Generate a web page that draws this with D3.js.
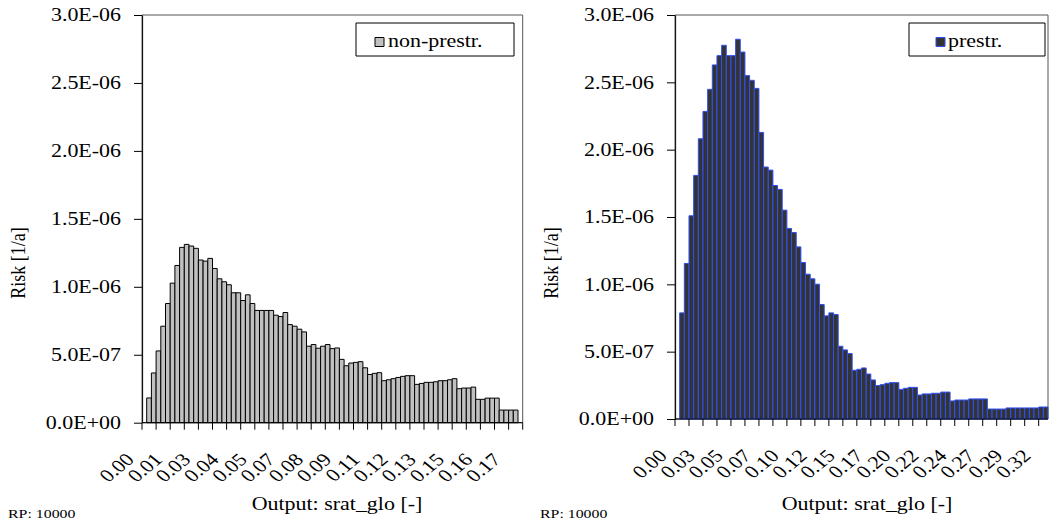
<!DOCTYPE html>
<html>
<head>
<meta charset="utf-8">
<script src="https://cdn.jsdelivr.net/npm/d3@7"></script>
<style>
  body { margin: 0; background: #fff; }
  text { font-family: "Liberation Serif", "Times New Roman", serif; fill: #000; }
</style>
</head>
<body>
<svg id="chart" width="1050" height="524"></svg>
<script>
// ---------------- DATA (risk values in units of 1E-07 per year) ----------------
// non-prestressed: 81 bins over Output srat_glo 0.00 .. 0.18
const nonPrestrRisk = [
  0, 1.82, 3.66, 5.28, 7.10, 8.77, 10.27, 11.57, 12.90, 13.12,
  13.00, 12.83, 11.97, 11.89, 12.09, 11.35, 10.59, 10.37, 10.15, 9.56,
  9.56, 8.99, 9.41, 8.77, 8.26, 8.26, 8.26, 8.26, 7.91, 7.81,
  8.11, 7.22, 7.10, 6.88, 6.68, 5.63, 5.75, 5.48, 5.63, 5.75,
  5.45, 5.50, 4.66, 4.19, 4.39, 4.44, 4.49, 4.04, 3.55, 3.63,
  3.68, 3.09, 3.16, 3.24, 3.33, 3.41, 3.46, 3.46, 2.82, 2.89,
  2.97, 2.97, 3.01, 3.09, 3.09, 3.16, 3.24, 2.50, 2.55, 2.55,
  2.62, 1.72, 1.72, 1.81, 1.81, 1.81, 0.93, 0.93, 0.93, 0.93,
  0
];
// prestressed: 80 bins over Output srat_glo 0.00 .. 0.33
const prestrRisk = [
  0, 7.88, 11.55, 15.09, 18.09, 20.81, 22.84, 24.48, 26.29, 26.98,
  27.75, 26.98, 26.98, 28.20, 27.25, 25.50, 25.15, 24.55, 21.28, 18.71,
  18.48, 17.34, 17.05, 15.51, 14.15, 13.85, 12.78, 11.62, 10.75, 10.41,
  10.01, 8.50, 7.66, 7.88, 7.76, 5.40, 5.13, 4.86, 3.62, 3.69,
  3.79, 3.34, 2.90, 2.48, 2.55, 2.65, 2.70, 2.70, 2.20, 2.28,
  2.35, 2.35, 1.78, 1.86, 1.86, 1.91, 1.91, 2.00, 2.00, 1.34,
  1.41, 1.41, 1.41, 1.49, 1.49, 1.49, 1.49, 0.74, 0.74, 0.74,
  0.74, 0.82, 0.82, 0.82, 0.82, 0.82, 0.82, 0.82, 0.89, 0.89
];
// x tick labels (one every 6 bins)
const nonPrestrTickLabels = ["0.00","0.01","0.03","0.04","0.05","0.07","0.08","0.09","0.11","0.12","0.13","0.15","0.16","0.17"];
const prestrTickLabels    = ["0.00","0.03","0.05","0.07","0.10","0.12","0.15","0.17","0.20","0.22","0.24","0.27","0.29","0.32"];
// y ticks (units of 1E-07) and their labels
const yTickValues = [0, 5, 10, 15, 20, 25, 30];
const yTickLabels = ["0.0E+00","5.0E-07","1.0E-06","1.5E-06","2.0E-06","2.5E-06","3.0E-06"];
const seriesNames = ["non-prestr.", "prestr."];
const xTitle = "Output: srat_glo [-]";
const yTitle = "Risk [1/a]";
const footNote = "RP: 10000";

// ---------------- DRAWING ----------------
const SX = 1.22;            // the original graphic is stretched horizontally
const FS = 18;              // font size
const svg = d3.select("#chart");
const root = svg.append("g").attr("transform", `scale(${SX},1)`);

function panel(cfg) {
  const g = root.append("g");
  const n = cfg.values.length;
  const x = d3.scaleBand().domain(d3.range(n)).range([cfg.x0 / SX, cfg.x1 / SX]).padding(0);
  const y = d3.scaleLinear().domain([0, 30]).range([cfg.yBot, cfg.yTop]);

  // plot area border
  g.append("rect")
    .attr("x", cfg.x0 / SX).attr("y", cfg.yTop)
    .attr("width", (cfg.x1 - cfg.x0) / SX).attr("height", cfg.yBot - cfg.yTop)
    .attr("fill", "none").attr("stroke", "#555").attr("stroke-width", 1)
    .attr("vector-effect", "non-scaling-stroke");

  // bars
  g.append("g").selectAll("rect")
    .data(cfg.values.map((v, i) => ({ v, i })).filter(d => d.v > 0))
    .join("rect")
    .attr("x", d => x(d.i)).attr("width", x.bandwidth())
    .attr("y", d => y(d.v)).attr("height", d => y(0) - y(d.v))
    .attr("fill", cfg.fill).attr("stroke", cfg.stroke).attr("stroke-width", 1)
    .attr("vector-effect", "non-scaling-stroke");

  // y axis
  const ya = g.append("g").attr("transform", `translate(${cfg.x0 / SX},0)`)
    .call(d3.axisLeft(y).tickValues(yTickValues)
      .tickFormat((d, i) => yTickLabels[i])
      .tickSizeOuter(0).tickSizeInner(8 / SX).tickPadding(13 / SX));
  ya.selectAll("path,line").attr("stroke", "#000").attr("vector-effect", "non-scaling-stroke");
  ya.selectAll("text").attr("font-size", FS).style("font-family", '"Liberation Serif", serif');

  // x axis line + ticks every 3 bins
  const xa = g.append("g");
  xa.append("line")
    .attr("x1", cfg.x0 / SX).attr("x2", cfg.x1 / SX)
    .attr("y1", cfg.yBot).attr("y2", cfg.yBot)
    .attr("stroke", "#000").attr("vector-effect", "non-scaling-stroke");
  xa.selectAll("line.tick")
    .data(d3.range(0, n + 1, 3))
    .join("line").attr("class", "tick")
    .attr("x1", i => (i < n ? x(i) : x.range()[1]))
    .attr("x2", i => (i < n ? x(i) : x.range()[1]))
    .attr("y1", cfg.yBot).attr("y2", cfg.yBot + 7)
    .attr("stroke", "#000").attr("vector-effect", "non-scaling-stroke");

  // rotated category labels every 6 bins
  xa.selectAll("text")
    .data(cfg.tickLabels.map((t, k) => ({ t, i: k * 6 })))
    .join("text")
    .attr("text-anchor", "end")
    .attr("font-size", FS)
    .attr("transform", d => `translate(${x(d.i) + x.bandwidth() / 2 - 9 / SX},${cfg.yBot + 38}) rotate(-45)`)
    .text(d => d.t);

  // axis titles
  g.append("text")
    .attr("text-anchor", "middle").attr("font-size", FS)
    .attr("x", cfg.xTitleX / SX).attr("y", 510)
    .text(xTitle);
  g.append("text")
    .attr("text-anchor", "middle").attr("font-size", FS)
    .attr("transform", `translate(${(cfg.x0 - 117) / SX},263) rotate(-90)`)
    .text(yTitle);
  g.append("text")
    .attr("font-size", 13).attr("x", cfg.rpX / SX).attr("y", 518)
    .text(footNote);

  // legend
  const lg = g.append("g");
  lg.append("rect")
    .attr("x", cfg.leg.x0 / SX).attr("y", 23)
    .attr("width", (cfg.leg.x1 - cfg.leg.x0) / SX).attr("height", 33)
    .attr("fill", "#fff").attr("stroke", "#000").attr("vector-effect", "non-scaling-stroke");
  lg.append("rect")
    .attr("x", cfg.leg.sw / SX).attr("y", 37.5)
    .attr("width", 9 / SX).attr("height", 9)
    .attr("fill", cfg.fill).attr("stroke", cfg.stroke).attr("vector-effect", "non-scaling-stroke");
  lg.append("text")
    .attr("font-size", FS).attr("x", cfg.leg.tx / SX).attr("y", 47)
    .text(cfg.name);
}

panel({
  values: nonPrestrRisk, tickLabels: nonPrestrTickLabels, name: seriesNames[0],
  x0: 142, x1: 522.7, yTop: 15, yBot: 422.7,
  fill: "#c0c0c0", stroke: "#000",
  xTitleX: 337, rpX: 8,
  leg: { x0: 356, x1: 514, sw: 375, tx: 388 }
});
panel({
  values: prestrRisk, tickLabels: prestrTickLabels, name: seriesNames[1],
  x0: 675, x1: 1048, yTop: 15, yBot: 419,
  fill: "#333333", stroke: "#2f50f5",
  xTitleX: 867, rpX: 540,
  leg: { x0: 909, x1: 1045, sw: 936, tx: 948 }
});
</script>
</body>
</html>
